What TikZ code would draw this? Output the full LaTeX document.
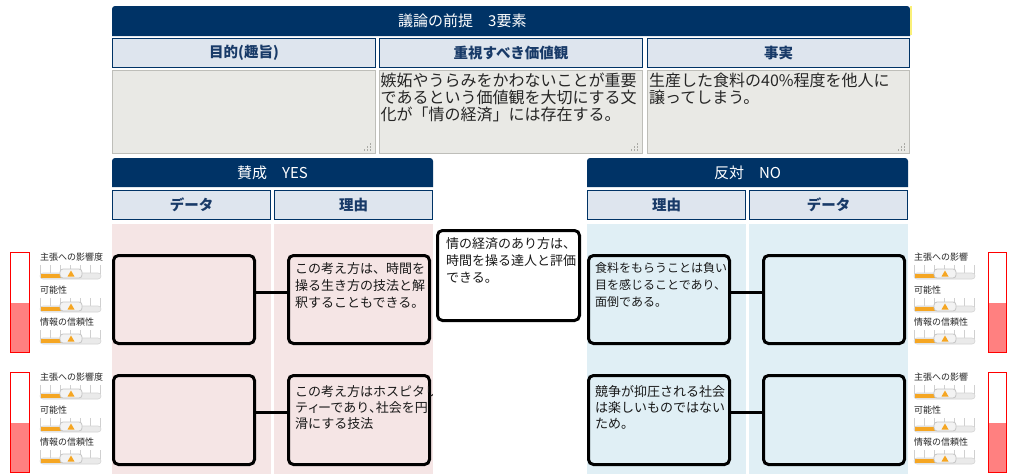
\documentclass[tikz,border=0pt]{standalone}
\usepackage{fontspec}
\setmainfont{Noto Sans CJK JP}
\definecolor{navy}{RGB}{0,51,102}
\definecolor{subfill}{RGB}{222,229,238}
\definecolor{subtext}{RGB}{24,58,104}
\definecolor{tbfill}{RGB}{233,233,229}
\definecolor{tbdraw}{RGB}{190,190,185}
\definecolor{pinkbg}{RGB}{245,229,229}
\definecolor{bluebg}{RGB}{224,239,245}
\definecolor{barred}{RGB}{255,0,0}
\definecolor{barfill}{RGB}{255,128,128}
\definecolor{sorange}{RGB}{245,166,35}
\definecolor{trackc}{RGB}{234,234,234}
\definecolor{trackd}{RGB}{212,212,212}
\definecolor{tickc}{RGB}{208,208,208}
\definecolor{thumbf}{RGB}{243,243,243}
\definecolor{thumbd}{RGB}{196,196,196}
\definecolor{gripc}{RGB}{170,170,165}
\definecolor{sliver}{RGB}{250,240,120}
\newcommand\pal[1]{{\addfontfeature{RawFeature=+palt}#1}}
\tikzset{
  hdrtxt/.style={text=white, inner sep=0, font=\fontsize{15}{18}\selectfont},
  subbox/.style={draw=navy, line width=1.4pt, fill=subfill, inner sep=0, outer sep=0, text=subtext, font=\fontsize{14.5}{17}\selectfont\bfseries},
  tbox/.style={draw=tbdraw, line width=1.4pt, fill=tbfill, inner sep=0, outer sep=0},
  tbtxt/.style={anchor=north west, inner sep=0, align=left, text=black!85, font=\fontsize{16}{16.7}\selectfont},
  argbox/.style={draw=black, line width=3pt, rounded corners=5pt, inner sep=0, outer sep=0},
  argtxt/.style={anchor=north west, inner sep=0, align=left, text=black!90, font=\fontsize{13}{17}\selectfont},
  argtxtb/.style={argtxt, font=\fontsize{13}{16}\selectfont},
  conn/.style={draw=black, line width=3pt},
  redbar/.style={draw=barred, line width=1pt},
  lbl/.style={anchor=west, inner sep=0, text=black!85, font=\fontsize{9}{10}\selectfont},
  tickline/.style={draw=tickc, line width=0.8pt},
  track/.style={draw=trackd, fill=trackc, line width=0.6pt, rounded corners=3pt},
  thumb/.style={draw=thumbd, fill=thumbf, line width=0.8pt, rounded corners=3pt},
}
% name, style, line width, x1, y1, x2, y2, text (outer edges)
\newcommand\abox[8]{\node[#2, minimum width={#6-#4-#3}, minimum height={#7-#5-#3}] (#1) at ({(#4+#6)/2},{(#5+#7)/2}) {#8};}
% name, x0, L, label
\newcommand\slgroup[4]{%
  \foreach \k in {0,...,6}{\draw[tickline] ({#2+0.5+\k*10},{#3+8}) -- ({#2+0.5+\k*10},{#3+17});}
  \draw[track] (#2,{#3+16}) rectangle ({#2+61},{#3+22});
  \fill[sorange] ({#2+0.5},{#3+16.6}) rectangle ({#2+23},{#3+21.4});
  \draw[thumb] ({#2+20},{#3+12}) rectangle ({#2+42},{#3+21});
  \fill[sorange] ({#2+27.5},{#3+19.5}) -- ({#2+34.5},{#3+19.5}) -- ({#2+31},{#3+13.5}) -- cycle;
  \node[lbl] (#1) at (#2,#3) {#4};
}
% bottom-right corner x, y
\newcommand\grip[2]{%
  \foreach \dx/\dy in {3/0,6/0,9/0,3/3,6/3,3/6}{\fill[gripc] ({#1-\dx-3.5},{#2-\dy-3.5}) rectangle ++(1.6,-1.6);}
}
\begin{document}
\begin{tikzpicture}[x=1pt,y=-1pt]
\useasboundingbox (0,0) rectangle (1029,474);
\fill[white] (0,0) rectangle (1029,474);

% ---- top: premises
\fill[navy] (112,36) [rounded corners=3pt] -- (112,6) -- (910,6) [sharp corners] -- (910,36) -- cycle;
\fill[sliver] (910,6) rectangle (911.6,35);
\node[hdrtxt, anchor=west] (toptitle) at (398,21) {議論の前提　3要素};

\abox{s1}{subbox}{1.4}{112}{38}{376}{68}{目的(趣旨)}
\abox{s2}{subbox}{1.4}{379}{38}{643}{68}{重視すべき価値観}
\abox{s3}{subbox}{1.4}{647}{38}{910}{68}{事実}

\abox{t1}{tbox}{1.4}{112}{70}{376}{154}{}
\abox{t2}{tbox}{1.4}{379}{70}{643}{154}{}
\abox{t3}{tbox}{1.4}{647}{70}{910}{154}{}
\grip{376}{154}\grip{643}{154}\grip{910}{154}
\node[tbtxt] (t2txt) at (380.5,73) {嫉妬やうらみをかわないことが重要\\であるという価値観を大切にする文\\化が「情の経済」には存在する。};
\node[tbtxt] (t3txt) at (649,73) {生産した食料の40\%程度を他人に\\譲ってしまう。};

% ---- YES side
\fill[navy] (112,187) [rounded corners=3pt] -- (112,158) -- (433,158) [sharp corners] -- (433,187) -- cycle;
\node[hdrtxt] (yestitle) at (272.5,173) {賛成　YES};
\abox{ys1}{subbox}{1.4}{112}{190}{271}{220}{データ}
\abox{ys2}{subbox}{1.4}{274}{190}{433}{220}{理由}
\fill[pinkbg] (112,224) rectangle (271,474);
\fill[pinkbg] (274,224) rectangle (433,474);

% ---- NO side
\fill[navy] (587,187) [rounded corners=3pt] -- (587,158) -- (908,158) [sharp corners] -- (908,187) -- cycle;
\node[hdrtxt] (notitle) at (747.5,173) {反対　NO};
\abox{ns1}{subbox}{1.4}{587}{190}{746}{220}{理由}
\abox{ns2}{subbox}{1.4}{749}{190}{908}{220}{データ}
\fill[bluebg] (587,224) rectangle (746,474);
\fill[bluebg] (749,224) rectangle (908,474);

% ---- argument boxes
\abox{yd1}{argbox, fill=pinkbg}{3}{112}{254}{256}{345}{}
\abox{yr1}{argbox, fill=pinkbg}{3}{287}{254}{431}{345}{}
\abox{mid}{argbox, fill=white}{3}{436}{229}{581}{322}{}
\abox{nr1}{argbox, fill=bluebg}{3}{587}{254}{731}{345}{}
\abox{nd1}{argbox, fill=bluebg}{3}{762}{254}{906}{345}{}
\abox{yd2}{argbox, fill=pinkbg}{3}{112}{374}{256}{466}{}
\abox{yr2}{argbox, fill=pinkbg}{3}{287}{374}{431}{466}{}
\abox{nr2}{argbox, fill=bluebg}{3}{587}{374}{731}{466}{}
\abox{nd2}{argbox, fill=bluebg}{3}{762}{374}{906}{466}{}

\draw[conn] ([yshift=7.5pt]yd1.east) -- ([yshift=7.5pt]yr1.west);
\draw[conn] ([yshift=7.5pt]nr1.east) -- ([yshift=7.5pt]nd1.west);
\draw[conn] ([yshift=8pt]yd2.east) -- ([yshift=8pt]yr2.west);
\draw[conn] ([yshift=8pt]nr2.east) -- ([yshift=8pt]nd2.west);

\node[argtxt] (yr1txt) at (295,262) {この考え方は、時間を\\操る生き方の技法と解\\釈することもできる。};
\node[argtxt] (midtxt) at (446,237) {情の経済のあり方は、\\時間を操る達人と評価\\できる。};
\node[argtxt, font=\fontsize{12}{17}\selectfont] (nr1txt) at (595,262) {食料をもらうことは負い\\目を感じることであり、\\面倒である。};
\begin{scope}
\clip (289,376) rectangle (432.5,464);
\node[argtxtb] (yr2txt) at (295,385) {この考え方はホスピタリ\\テ\pal{ィ}ーであり\pal{、}社会を円\\滑にする技法};
\end{scope}
\node[argtxtb] (nr2txt) at (595,385) {競争が抑圧される社会\\は楽しいものではない\\ため。};

% ---- gauges left
\draw[redbar, fill=white] (10.5,252.5) rectangle (29.5,352.5);
\fill[barfill] (11,303) rectangle (29,352);
\draw[redbar, fill=white] (10.5,372.5) rectangle (29.5,472.5);
\fill[barfill] (11,423) rectangle (29,472);
\slgroup{la1}{40}{257}{主張への影響度}
\slgroup{la2}{40}{290}{可能性}
\slgroup{la3}{40}{322}{情報の信頼性}
\slgroup{lb1}{40}{377}{主張への影響度}
\slgroup{lb2}{40}{410}{可能性}
\slgroup{lb3}{40}{442}{情報の信頼性}

% ---- gauges right
\draw[redbar, fill=white] (988.5,252.5) rectangle (1006.5,352.5);
\fill[barfill] (989,303) rectangle (1006,352);
\draw[redbar, fill=white] (988.5,372.5) rectangle (1006.5,472.5);
\fill[barfill] (989,423) rectangle (1006,472);
\slgroup{ra1}{914}{257}{主張への影響}
\slgroup{ra2}{914}{290}{可能性}
\slgroup{ra3}{914}{322}{情報の信頼性}
\slgroup{rb1}{914}{377}{主張への影響}
\slgroup{rb2}{914}{410}{可能性}
\slgroup{rb3}{914}{442}{情報の信頼性}
\end{tikzpicture}
\end{document}
